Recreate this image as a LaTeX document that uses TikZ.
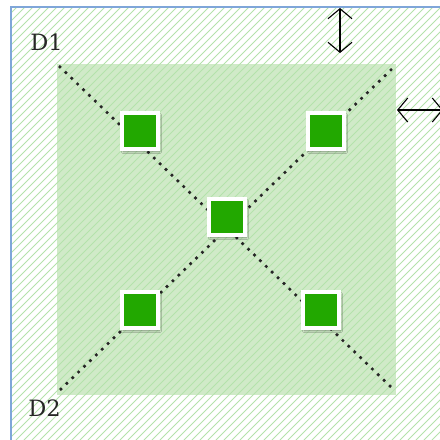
\documentclass[tikz,border=0pt]{standalone}
\usepackage{fontspec}
\setmainfont{DejaVu Serif}
\usetikzlibrary{arrows.meta,shadows.blur}
\definecolor{hatchgreen}{HTML}{B4E2AB}
\definecolor{zonefill}{HTML}{D0EAC8}
\definecolor{frameblue}{HTML}{7FA6D9}
\definecolor{padgreen}{HTML}{22A800}
\tikzset{
  pad/.style={draw=white, line width=3.5pt, fill=padgreen, minimum size=36pt,
    inner sep=0pt, blur shadow={shadow xshift=1.5pt, shadow yshift=-2.5pt,
    shadow blur steps=6, shadow opacity=40}},
  diag/.style={line width=2.6pt, dash pattern=on 2.6pt off 5.6pt, black!85},
  gap/.style={line width=1.1pt, {Straight Barb[length=10pt,width=24pt]}-{Straight Barb[length=10pt,width=24pt]}},
  tag/.style={font=\fontsize{22.5}{22.5}\selectfont, text=black!85, inner sep=0pt}
}
\begin{document}
\begin{tikzpicture}[x=1pt,y=-1pt]
\useasboundingbox (0,0) rectangle (440,440);
% placement zone and its inner area
\fill[zonefill] (57,64) rectangle (396,395);
% diagonal hatching over the whole frame
\begin{scope}
  \clip (11,7) rectangle (440,440);
  \foreach \s in {-440,-432,...,440}
    \draw[hatchgreen, line width=0.9pt] (\s,440) -- (\s+433,7);
\end{scope}
% frame edges
\draw[frameblue, line width=1.2pt] (11,440) -- (11,7) -- (440,7);
% diagonals
\coordinate (tl) at (59,66);
\coordinate (tr) at (395,66);
\coordinate (bl) at (60,390);
\coordinate (br) at (392,388);
\draw[diag] (tl) -- (br);
\draw[diag] (bl) -- (tr);
% pads
\node[pad] (p1) at (140,131) {};
\node[pad] (p2) at (326,131) {};
\node[pad] (p3) at (227,217) {};
\node[pad] (p4) at (140,310) {};
\node[pad] (p5) at (321,310) {};
% labels
\node[tag] (d1) at (46.5,42) {D1};
\node[tag] (d2) at (44.5,408) {D2};
% clearance arrows
\coordinate (va) at (340,8);
\coordinate (vb) at (340,53);
\draw[gap] (va) -- (vb);
\coordinate (ha) at (397,110);
\coordinate (hb) at (443,110);
\draw[gap] (ha) -- (hb);
\end{tikzpicture}
\end{document}
